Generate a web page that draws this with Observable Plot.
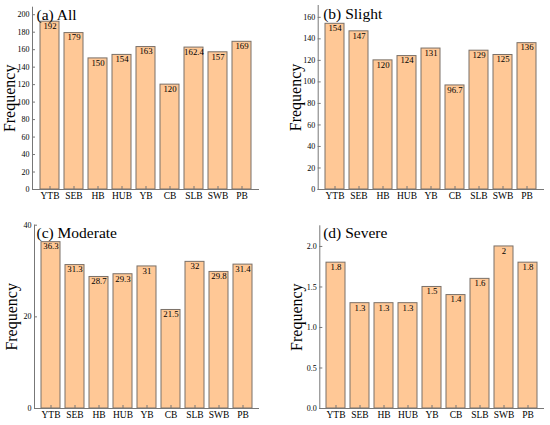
<!DOCTYPE html>
<html><head><meta charset="utf-8">
<script src="https://cdn.jsdelivr.net/npm/d3@7"></script>
<script src="https://cdn.jsdelivr.net/npm/@observablehq/plot@0.6"></script>
<style>
body{margin:0;background:#fff}
#wrap{position:relative;width:550px;height:425px;background:#fff}
#wrap svg{position:absolute}
#wrap svg, #wrap svg text{font-family:"Liberation Serif","Times New Roman",serif !important}
</style></head><body><div id="wrap"></div>
<script>
const basins = ["YTB","SEB","HB","HUB","YB","CB","SLB","SWB","PB"];
const allValues = [192,179,150,154,163,120,162.4,157,169];
const slightValues = [154,147,120,124,131,96.7,129,125,136];
const moderateValues = [36.3,31.3,28.7,29.3,31,21.5,32,29.8,31.4];
const severeValues = [1.8,1.3,1.3,1.3,1.5,1.4,1.6,2,1.8];
const titles = ["(a) All","(b) Slight","(c) Moderate","(d) Severe"];
const yTicksA = [0,20,40,60,80,100,120,140,160,180,200];
const yTicksB = [0,20,40,60,80,100,120,140,160];
const yTicksC = [0,20,40];
const yTicksD = [0,0.5,1.0,1.5,2.0];
const yLabel = "Frequency";

const panels = [
  {values: allValues, title: titles[0], ticks: yTicksA, fmt: d3.format("d"), ymax: 208.6,
   left: 0, top: 0, w: 275, h: 212, m: [6.7, 16, 23, 32], tdx: 4, tdy: 12.5},
  {values: slightValues, title: titles[1], ticks: yTicksB, fmt: d3.format("d"), ymax: 171,
   left: 275, top: 0, w: 275, h: 212, m: [5, 6, 23, 42.7], tdx: 5, tdy: 13.5},
  {values: moderateValues, title: titles[2], ticks: yTicksC, fmt: d3.format("d"), ymax: 40,
   left: 0, top: 212, w: 275, h: 213, m: [12.7, 16, 17, 34], tdx: 2, tdy: 12.3},
  {values: severeValues, title: titles[3], ticks: yTicksD, fmt: d3.format(".1f"), ymax: 2.255,
   left: 275, top: 212, w: 275, h: 213, m: [13.3, 6, 17, 44.3], tdx: 3.4, tdy: 12.4}
];

const wrap = document.getElementById("wrap");
for (const p of panels) {
  const data = basins.map((b, i) => ({basin: b, value: p.values[i]}));
  const innerW = p.w - p.m[1] - p.m[3];
  const innerH = p.h - p.m[0] - p.m[2];
  const chart = Plot.plot({
    width: p.w, height: p.h,
    marginTop: p.m[0], marginRight: p.m[1], marginBottom: p.m[2], marginLeft: p.m[3],
    style: {background: "transparent", color: "#000"},
    x: {domain: basins, padding: 0.2, paddingOuter: 0.15, label: null},
    y: {domain: [0, p.ymax], label: null},
    marks: [
      Plot.barY(data, {x: "basin", y: "value", fill: "#ffc896", stroke: "#7a7068", strokeWidth: 1}),
      Plot.tickY(p.ticks, {y: d => d, insetRight: innerW - 3, stroke: "#777"}),
      Plot.tickX(basins, {x: d => d, insetTop: innerH - 3, stroke: "#777"}),
      Plot.frame({anchor: "left", stroke: "#777"}),
      Plot.ruleY([0], {stroke: "#777"}),
      Plot.text(data, {x: "basin", y: "value", text: d => String(d.value), dy: 4.5, lineAnchor: "middle", fontSize: 8.8, fill: "#000"}),
      Plot.axisY(p.ticks, {tickSize: 0, tickPadding: 3, tickFormat: p.fmt, fontSize: 8, label: null}),
      Plot.axisX({tickSize: 0, tickPadding: 3, fontSize: 9.5, label: null}),
      Plot.text([p.title], {frameAnchor: "top-left", dx: p.tdx, dy: p.tdy, lineAnchor: "bottom", textAnchor: "start", fontSize: 15.5, fill: "#000"}),
      Plot.text([yLabel], {frameAnchor: "left", rotate: -90, dx: -29, lineAnchor: "top", textAnchor: "middle", fontSize: 16, fill: "#000"})
    ]
  });
  chart.style.left = p.left + "px";
  chart.style.top = p.top + "px";
  wrap.appendChild(chart);
}
</script></body></html>
